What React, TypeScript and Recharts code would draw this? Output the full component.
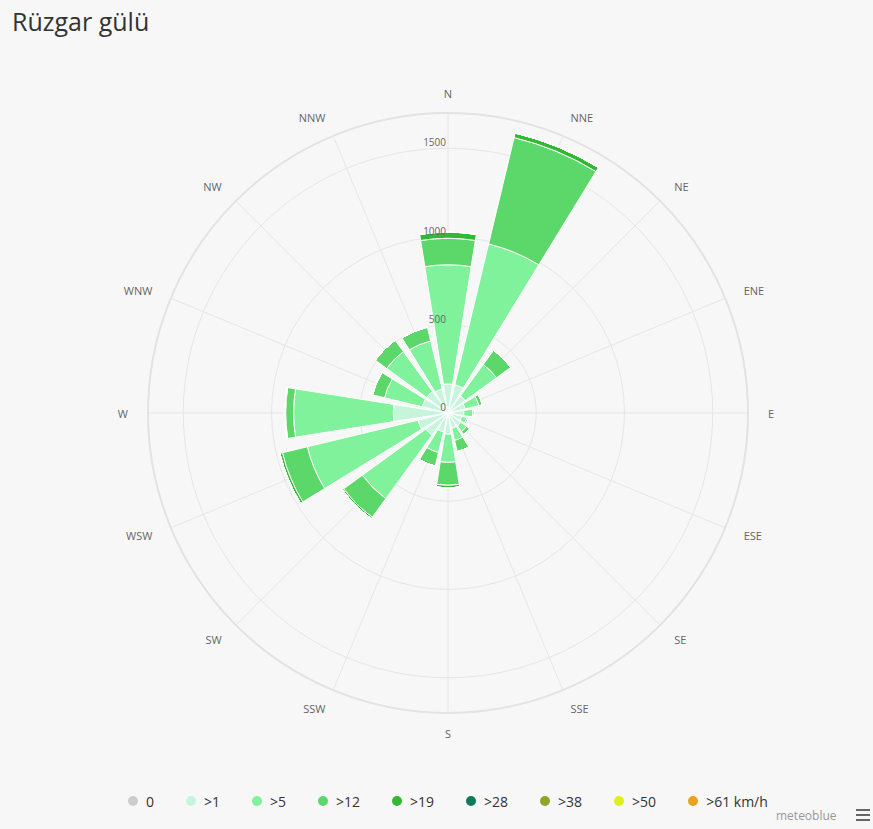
import React from 'react';
import { RadialBarChart, RadialBar, PolarGrid, PolarAngleAxis, PolarRadiusAxis } from 'recharts';

const directions = ['N', 'NNE', 'NE', 'ENE', 'E', 'ESE', 'SE', 'SSE', 'S', 'SSW', 'SW', 'WSW', 'W', 'WNW', 'NW', 'NNW'];
const speed0 = [15, 15, 10, 10, 10, 10, 10, 10, 10, 10, 15, 15, 20, 10, 10, 10];
const speed1 = [150, 150, 110, 90, 80, 70, 80, 80, 110, 100, 140, 160, 290, 140, 140, 130];
const speed5 = [675, 820, 220, 80, 50, 30, 40, 70, 160, 120, 445, 645, 565, 220, 280, 280];
const speed12 = [150, 620, 100, 20, 10, 10, 20, 65, 130, 80, 130, 145, 45, 70, 80, 80];
const speed19 = [35, 27, 0, 0, 0, 0, 0, 0, 15, 0, 10, 15, 5, 0, 0, 0];
const speed28 = [0, 0, 0, 0, 0, 0, 0, 0, 0, 0, 0, 0, 0, 0, 0, 0];
const speed38 = [0, 0, 0, 0, 0, 0, 0, 0, 0, 0, 0, 0, 0, 0, 0, 0];
const speed50 = [0, 0, 0, 0, 0, 0, 0, 0, 0, 0, 0, 0, 0, 0, 0, 0];
const speed61 = [0, 0, 0, 0, 0, 0, 0, 0, 0, 0, 0, 0, 0, 0, 0, 0];

const seriesNames = ['0', '>1', '>5', '>12', '>19', '>28', '>38', '>50', '>61 km/h'];
const seriesColors = ['#cccccc', '#c6f5dc', '#7ff29b', '#5cd86a', '#33b833', '#0e7a5c', '#8ea52a', '#dfee1e', '#e8a21c'];
const radiusTicks = [0, 500, 1000, 1500, 1700];
const radiusMax = 1700;

const seriesValues = [speed0, speed1, speed5, speed12, speed19, speed28, speed38, speed50, speed61];

const data = directions.map((dir, i) => {
  const row: Record<string, string | number> = { dir };
  seriesValues.forEach((arr, j) => {
    row['s' + j] = arr[i];
  });
  return row;
});

const CX = 448;
const CY = 413;
const OUTER = 300;
const LABEL_GAP = 20;
const STEP = 360 / directions.length;
const START = 90 - STEP / 2;
const gridAngles = directions.map((_, i) => 90 - i * STEP);

const FONT = '"Open Sans", "DejaVu Sans", Arial, sans-serif';
const RAD = Math.PI / 180;

const AngleTick = (props: any) => {
  const { payload } = props;
  const a = (payload.coordinate + STEP / 2) * RAD;
  const r = OUTER + LABEL_GAP;
  const c = Math.cos(a);
  const x = CX + r * c;
  const y = CY - r * Math.sin(a);
  const anchor = c > 0.01 ? 'start' : c < -0.01 ? 'end' : 'middle';
  return (
    <text x={x} y={y} textAnchor={anchor} dominantBaseline="central" fontSize={11} fill="#666666" fontFamily={FONT}>
      {payload.value}
    </text>
  );
};

const RadiusTick = (props: any) => {
  const { x, y, payload } = props;
  if (payload.value === radiusMax) return null;
  return (
    <text x={x - 2} y={y - 6} textAnchor="end" dominantBaseline="central" fontSize={10} fill="#666666" fontFamily={FONT}>
      {payload.value}
    </text>
  );
};

export default function App() {
  return (
    <div style={{ position: 'absolute', left: 0, top: 0, width: 873, height: 829, background: '#f7f7f7', fontFamily: FONT, overflow: 'hidden' }}>
      <div style={{ position: 'absolute', left: 12, top: 5, fontSize: 25, color: '#333333', lineHeight: '32px' }}>Rüzgar gülü</div>
      <div style={{ position: 'absolute', left: 0, top: 0 }}>
        <RadialBarChart
          width={873}
          height={829}
          data={data}
          cx={CX}
          cy={CY}
          innerRadius={0}
          outerRadius={OUTER}
          startAngle={START}
          endAngle={START - 360}
          layout="centric"
          barCategoryGap="10%"
          margin={{ top: 0, right: 0, bottom: 0, left: 0 }}
        >
          <PolarGrid gridType="circle" stroke="#e6e6e6" strokeWidth={1} polarAngles={gridAngles} />
          <PolarAngleAxis
            dataKey="dir"
            type="category"
            tick={<AngleTick />}
            tickSize={LABEL_GAP}
            tickLine={false}
            axisLine={{ stroke: '#e3e3e3', strokeWidth: 2 }}
            axisLineType="circle"
          />
          <PolarRadiusAxis
            type="number"
            domain={[0, radiusMax]}
            ticks={radiusTicks}
            angle={90}
            orientation="left"
            axisLine={false}
            tickLine={false}
            tick={<RadiusTick />}
          />
          {seriesNames.map((name, j) => (
            <RadialBar
              key={name}
              name={name}
              dataKey={'s' + j}
              stackId="wind"
              fill={seriesColors[j]}
              stroke="#ffffff"
              strokeWidth={1}
              isAnimationActive={false}
            />
          ))}
        </RadialBarChart>
      </div>
      <div style={{ position: 'absolute', left: 128, top: 791, height: 20, display: 'flex', alignItems: 'center', fontSize: 14, color: '#333333' }}>
        {seriesNames.map((name, j) => (
          <div key={name} style={{ display: 'flex', alignItems: 'center', marginRight: 32 }}>
            <span style={{ width: 10, height: 10, borderRadius: 5, background: seriesColors[j], display: 'inline-block', marginRight: 8 }} />
            <span>{name}</span>
          </div>
        ))}
      </div>
      <div style={{ position: 'absolute', left: 776, top: 807, fontSize: 12, color: '#999999' }}>meteoblue</div>
      <div style={{ position: 'absolute', left: 856, top: 809, width: 14 }}>
        <div style={{ height: 2, background: '#666666', marginBottom: 3 }} />
        <div style={{ height: 2, background: '#666666', marginBottom: 3 }} />
        <div style={{ height: 2, background: '#666666' }} />
      </div>
    </div>
  );
}
